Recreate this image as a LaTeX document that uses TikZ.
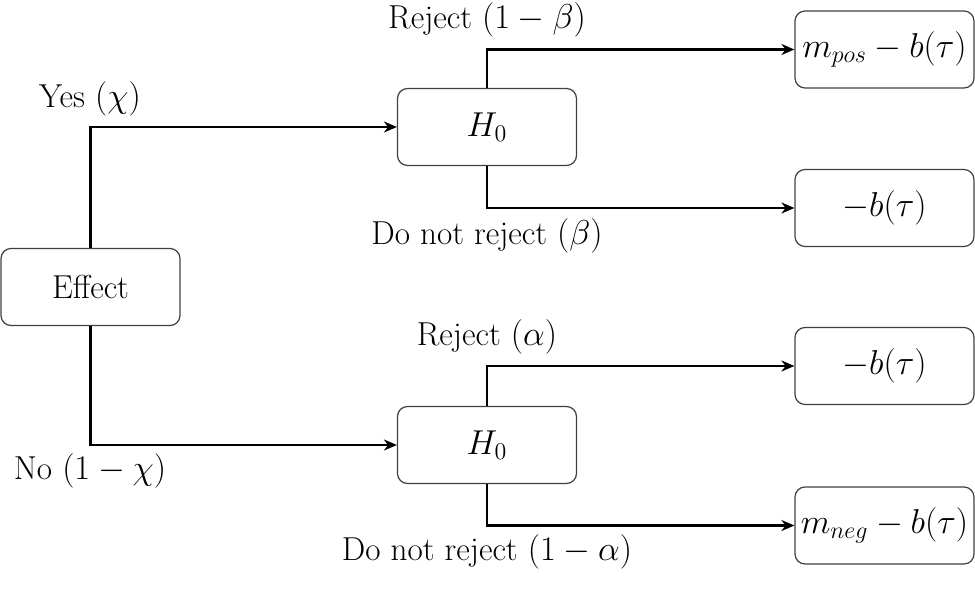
\documentclass[tikz,border=0pt]{standalone}
\usetikzlibrary{arrows.meta}
\begin{document}
\begin{tikzpicture}[x=0.5pt,y=-0.5pt,
  box/.style={draw=black!75,line width=0.6pt,rounded corners=5pt,minimum width=89.5pt,minimum height=38.5pt,inner sep=0pt,font=\fontsize{16.6pt}{20pt}\selectfont},
  conn/.style={line width=1.05pt,-{Stealth[length=6.5pt,width=5.5pt]}},
  lbl/.style={font=\fontsize{16.6pt}{20pt}\selectfont,inner sep=0pt}]
\useasboundingbox (0,0) rectangle (975,594);
\node[box] (eff) at (90.5,287) {Effect};
\node[box] (h0a) at (487,127) {$H_0$};
\node[box] (h0b) at (487,445) {$H_0$};
\node[box] (r1) at (884.5,49.5) {$m_{pos}-b(\tau)$};
\node[box] (r2) at (884.5,208) {$-b(\tau)$};
\node[box] (r3) at (884.5,366) {$-b(\tau)$};
\node[box] (r4) at (884.5,525.5) {$m_{neg}-b(\tau)$};
\draw[conn] (eff.north) |- (h0a.west);
\draw[conn] (eff.south) |- (h0b.west);
\draw[conn] (h0a.north) |- (r1.west);
\draw[conn] (h0a.south) |- (r2.west);
\draw[conn] (h0b.north) |- (r3.west);
\draw[conn] (h0b.south) |- (r4.west);
\node[lbl] (l1) at (90,99) {Yes $(\chi)$};
\node[lbl] (l2) at (90,471) {No $(1-\chi)$};
\node[lbl] (l3) at (487,20) {Reject $(1-\beta)$};
\node[lbl] (l4) at (487,236) {Do not reject $(\beta)$};
\node[lbl] (l5) at (487,337) {Reject $(\alpha)$};
\node[lbl] (l6) at (487,552) {Do not reject $(1-\alpha)$};
\end{tikzpicture}
\end{document}
